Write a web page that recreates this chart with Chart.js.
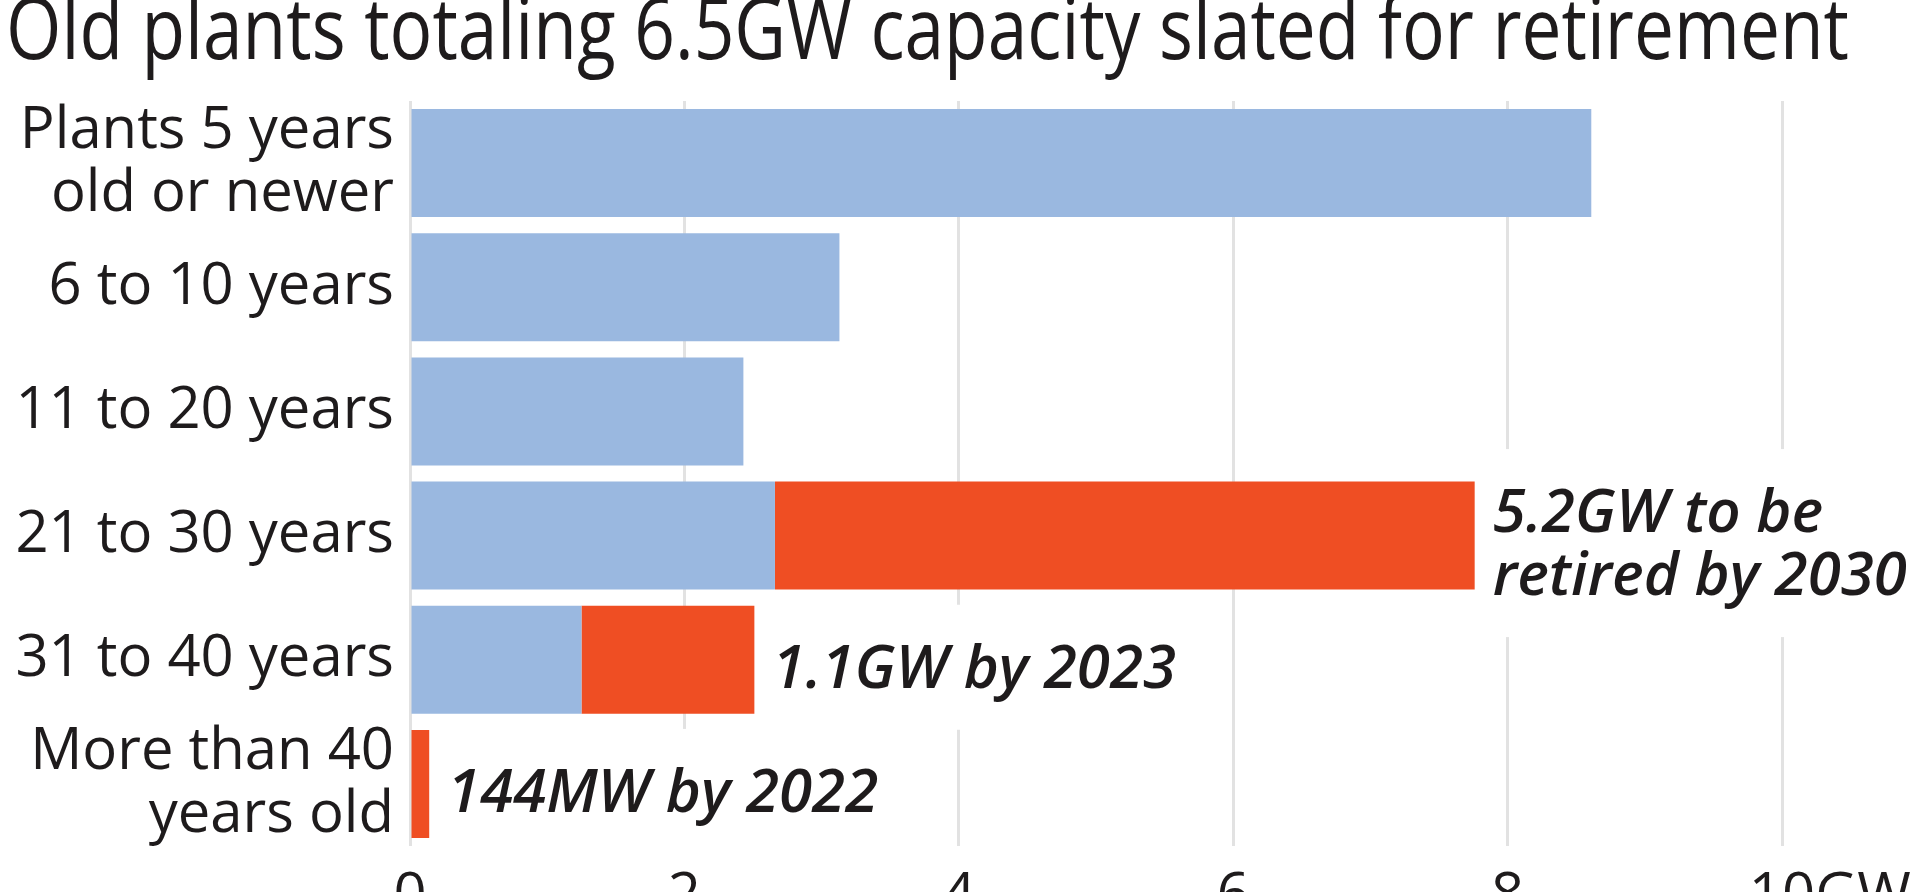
<!DOCTYPE html>
<html>
<head>
<meta charset="utf-8">
<title>Old plants slated for retirement</title>
<script src="https://cdn.jsdelivr.net/npm/chart.js@4"></script>
<style>
  html, body { margin: 0; padding: 0; width: 1920px; height: 892px; overflow: hidden; background: #fff; }
  #wrap { position: relative; width: 1920px; height: 892px; overflow: hidden; }
  #title {
    position: absolute; left: 6px; top: -33px;
    font-family: "Open Sans", sans-serif; font-size: 86px; line-height: 117px;
    color: #1e1b1c; white-space: nowrap; transform-origin: 0 0;
  }
  #chart { position: absolute; left: 0; top: 0; }
</style>
</head>
<body>
<div id="wrap">
  <div id="title">Old plants totaling 6.5GW capacity slated for retirement</div>
  <canvas id="chart" width="1920" height="925"></canvas>
</div>
<script>
// categories (multi-line labels) and values in GW
const ageGroups = [
  ['Plants 5 years', 'old or newer'],
  ['6 to 10 years'],
  ['11 to 20 years'],
  ['21 to 30 years'],
  ['31 to 40 years'],
  ['More than 40', 'years old']
];
const remainingGW = [8.61, 3.13, 2.43, 2.66, 1.25, 0];
const retiringGW  = [0, 0, 0, 5.10, 1.26, 0.14];
const retireNotes = [null, null, null, ['5.2GW to be', 'retired by 2030'], ['1.1GW by 2023'], ['144MW by 2022']];
const xTicks = [0, 2, 4, 6, 8, 10];
const unitSuffix = 'GW';

const INK = '#1e1b1c';
const FONT = '"Open Sans", sans-serif';

// fit title width to the reference
const t = document.getElementById('title');
t.style.transform = `scaleX(${1843 / t.getBoundingClientRect().width})`;

// italic notes next to the orange bars, with a white box that cuts the gridlines
const notesPlugin = {
  id: 'notes',
  afterDatasetsDraw(chart) {
    const ctx = chart.ctx;
    const meta = chart.getDatasetMeta(chart.data.datasets.length - 1);
    ctx.save();
    ctx.font = `italic 600 60px ${FONT}`;
    ctx.textAlign = 'left';
    ctx.textBaseline = 'alphabetic';
    retireNotes.forEach((lines, i) => {
      if (!lines) return;
      const bar = meta.data[i];
      const x = bar.x + 18;
      const lh = 63;
      const base0 = bar.y + 28 - (lines.length - 1) * lh / 2;
      const w = Math.max(...lines.map(s => ctx.measureText(s).width));
      const top = base0 - 43 - 40;
      const bottom = base0 + (lines.length - 1) * lh + 42;
      ctx.fillStyle = '#fff';
      ctx.fillRect(x - 6, top, w + 14, bottom - top);
      ctx.fillStyle = INK;
      lines.forEach((s, k) => ctx.fillText(s, x, base0 + k * lh));
    });
    ctx.restore();
  }
};

// "GW" after the last x tick, so "10" stays centred on its gridline
const unitPlugin = {
  id: 'unit',
  afterDraw(chart) {
    const sc = chart.scales.x;
    const items = sc.getLabelItems();
    const last = items[items.length - 1];
    if (!last) return;
    const ctx = chart.ctx;
    ctx.save();
    ctx.font = `58px ${FONT}`;
    const w = ctx.measureText(String(last.label)).width;
    ctx.fillStyle = INK;
    ctx.textAlign = 'left';
    ctx.textBaseline = 'middle';
    ctx.fillText(unitSuffix, last.options.translation[0] + w / 2, last.options.translation[1] + last.textOffset);
    ctx.restore();
  }
};

new Chart(document.getElementById('chart'), {
  type: 'bar',
  data: {
    labels: ageGroups,
    datasets: [
      { label: 'Capacity', data: remainingGW, backgroundColor: '#9ab8e0', borderWidth: 0 },
      { label: 'Slated for retirement', data: retiringGW, backgroundColor: '#ef4e23', borderWidth: 0 }
    ]
  },
  options: {
    indexAxis: 'y',
    responsive: false,
    animation: false,
    barPercentage: 0.87,
    categoryPercentage: 1,
    layout: { padding: { top: 101, right: 138, left: 0, bottom: 0 } },
    plugins: { legend: { display: false }, tooltip: { enabled: false }, title: { display: false } },
    scales: {
      x: {
        stacked: true,
        min: 0, max: 10,
        afterBuildTicks: (sc) => { sc.ticks = xTicks.map(v => ({ value: v })); },
        afterFit: (sc) => { sc.height = 79; },
        grid: { color: '#e2e2e2', lineWidth: 3, drawTicks: false },
        border: { display: false },
        ticks: { color: INK, font: { family: FONT, size: 58 }, padding: 17, maxRotation: 0, autoSkip: false }
      },
      y: {
        stacked: true,
        afterFit: (sc) => { sc.width = 410; },
        grid: { display: false, drawTicks: false },
        border: { display: false },
        ticks: { color: INK, font: { family: FONT, size: 58, lineHeight: 1.08 }, padding: 16, autoSkip: false }
      }
    }
  },
  plugins: [notesPlugin, unitPlugin]
});
</script>
</body>
</html>
